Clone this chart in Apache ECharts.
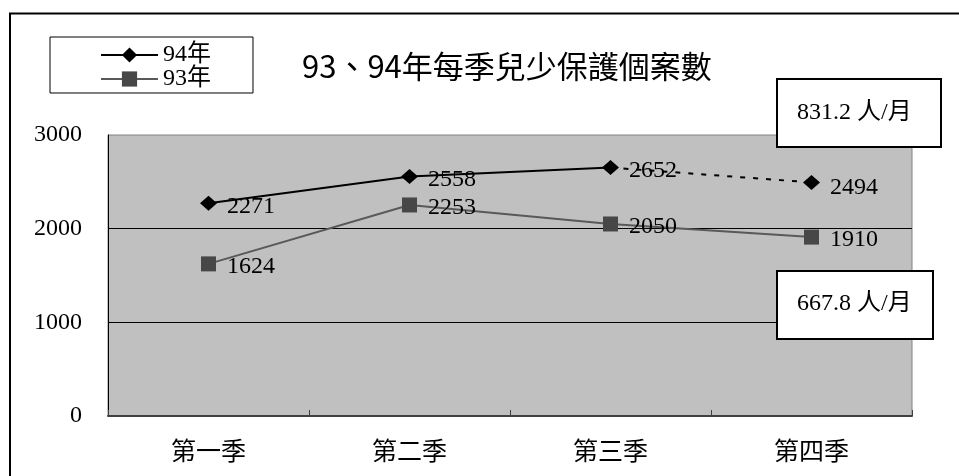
<!DOCTYPE html>
<html>
<head>
<meta charset="utf-8">
<script src="https://cdn.jsdelivr.net/npm/echarts@6/dist/echarts.min.js"></script>
<style>html,body{margin:0;padding:0;background:#fff;}#c{width:959px;height:476px;}</style>
</head>
<body>
<div id="c"></div>
<script>
const categories = ['第一季', '第二季', '第三季', '第四季'];
const values94 = [2271, 2558, 2652, 2494];
const values93 = [1624, 2253, 2050, 1910];
const seriesNames = ['94年', '93年'];
const yTicks = [0, 1000, 2000, 3000];
const titleText = '93、94年每季兒少保護個案數';
const notes = ['831.2 人/月', '667.8 人/月'];

const SERIF = "'Liberation Serif', 'Noto Sans CJK TC', serif";
const SANS = "'Noto Sans CJK TC', 'Noto Sans', sans-serif";

// 94 solid part: first three quarters; dashed part: last two quarters
const solid94 = values94.map((v, i) => i < values94.length - 1 ? v : '-');
const dashed94 = values94.map((v, i) => {
  if (i < values94.length - 2) return '-';
  if (i === values94.length - 2) return { value: v, symbol: 'none', label: { show: false } };
  return v;
});

const chart = echarts.init(document.getElementById('c'), null, { renderer: 'canvas' });
const labelStyle = { show: true, position: 'right', fontFamily: SERIF, fontSize: 24, color: '#000', offset: [0, 3] };

chart.setOption({
  animation: false,
  backgroundColor: '#fff',
  title: {
    text: titleText, left: 302, top: 51, padding: 0,
    textStyle: { fontFamily: SANS, fontSize: 31, fontWeight: 'normal', color: '#000' }
  },
  legend: {
    data: seriesNames,
    orient: 'vertical',
    left: 50, top: 37,
    padding: [6, 42, 2, 50],
    backgroundColor: '#fff', borderColor: '#000', borderWidth: 1, borderRadius: 0,
    itemWidth: 57, itemHeight: 19, itemGap: 0,
    textStyle: { fontFamily: SERIF, fontSize: 24, color: '#000', padding: [0, 0, 0, 0] },
    z: 50
  },
  grid: {
    left: 108, top: 135, right: 47, bottom: 60,
    show: true, backgroundColor: '#C0C0C0', borderColor: '#808080', borderWidth: 1
  },
  xAxis: {
    type: 'category', data: categories, boundaryGap: true,
    axisLine: { lineStyle: { color: '#404040', width: 2 } },
    axisTick: { show: true, inside: true, length: 6, lineStyle: { color: '#404040', width: 1 } },
    axisLabel: { fontFamily: SERIF, fontSize: 25, color: '#000', margin: 25 }
  },
  yAxis: {
    type: 'value', min: yTicks[0], max: yTicks[yTicks.length - 1], interval: yTicks[1] - yTicks[0],
    axisLine: { show: true, lineStyle: { color: '#000', width: 1 } },
    axisTick: { show: false },
    splitLine: { show: true, showMinLine: false, showMaxLine: false, lineStyle: { color: '#000', width: 1 } },
    axisLabel: { fontFamily: SERIF, fontSize: 24, color: '#000', margin: 26, formatter: v => String(v) }
  },
  series: [
    {
      name: seriesNames[0], type: 'line', data: solid94,
      symbol: 'diamond', symbolSize: [17, 15],
      itemStyle: { color: '#000' },
      lineStyle: { color: '#000', width: 2 },
      label: Object.assign({}, labelStyle, { distance: 10 }),
      z: 4
    },
    {
      name: '94年續', type: 'line', data: dashed94,
      symbol: 'diamond', symbolSize: [17, 15],
      itemStyle: { color: '#000' },
      lineStyle: { color: '#000', width: 2, type: [5, 8] },
      label: Object.assign({}, labelStyle, { distance: 10, offset: [0, 5] }),
      z: 4
    },
    {
      name: seriesNames[1], type: 'line', data: values93,
      symbol: 'rect', symbolSize: [15, 15],
      itemStyle: { color: '#474747' },
      lineStyle: { color: '#595959', width: 2 },
      label: Object.assign({}, labelStyle, { distance: 11 }),
      z: 3
    }
  ],
  graphic: [
    { type: 'rect', z: 100, shape: { x: 777, y: 79, width: 164, height: 68 },
      style: { fill: '#fff', stroke: '#000', lineWidth: 2 } },
    { type: 'text', z: 101, x: 797, y: 113,
      style: { text: notes[0], font: "24px 'Liberation Serif', 'Noto Sans CJK TC'", fill: '#000', verticalAlign: 'middle', align: 'left' } },
    { type: 'rect', z: 100, shape: { x: 777, y: 271, width: 156, height: 68 },
      style: { fill: '#fff', stroke: '#000', lineWidth: 2 } },
    { type: 'text', z: 101, x: 797, y: 304,
      style: { text: notes[1], font: "24px 'Liberation Serif', 'Noto Sans CJK TC'", fill: '#000', verticalAlign: 'middle', align: 'left' } },
    { type: 'rect', z: 100, shape: { x: 10, y: 13.5, width: 1000, height: 500 },
      style: { fill: 'none', stroke: '#000', lineWidth: 2 } }
  ]
});
</script>
</body>
</html>
